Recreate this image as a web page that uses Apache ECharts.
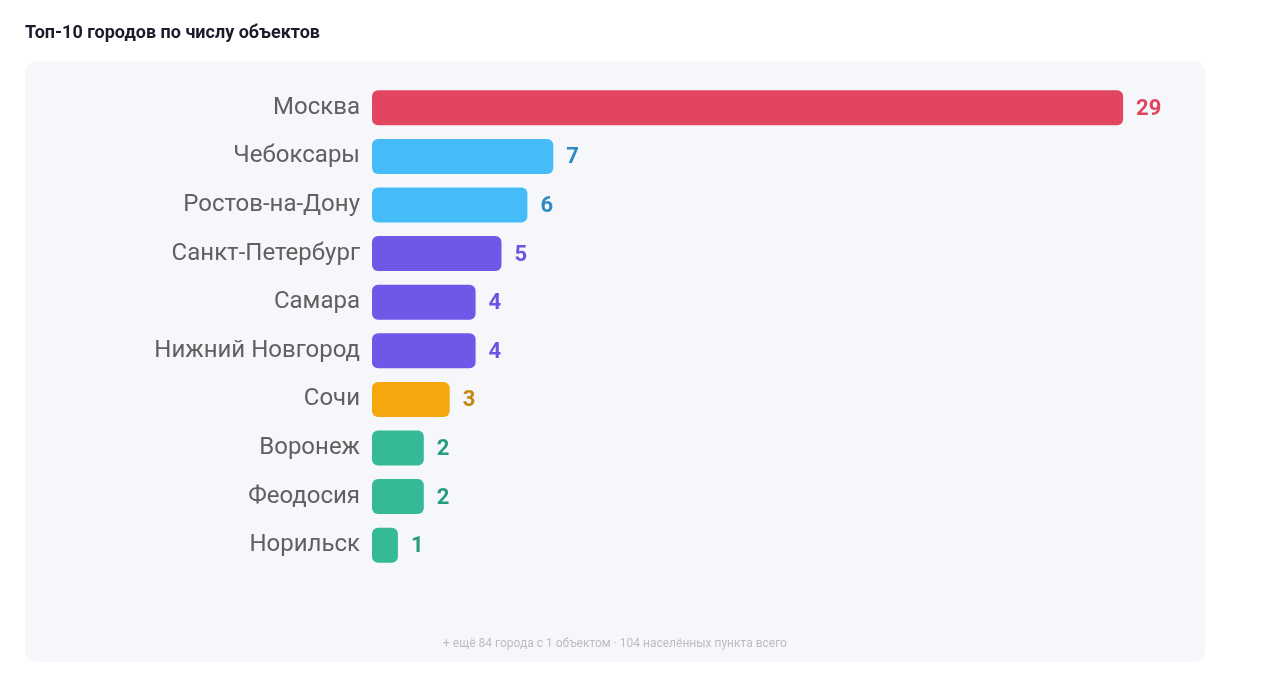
<!DOCTYPE html>
<html><head><meta charset="utf-8">
<script src="https://cdn.jsdelivr.net/npm/echarts@6/dist/echarts.min.js"></script>
<style>html,body{margin:0;padding:0;background:#fff;}#c{width:1266px;height:693px;}</style>
</head><body><div id="c"></div>
<script>
const cities = ['Москва','Чебоксары','Ростов-на-Дону','Санкт-Петербург','Самара','Нижний Новгород','Сочи','Воронеж','Феодосия','Норильск'];
const counts = [29,7,6,5,4,4,3,2,2,1];
const barColors = ['#e24560','#45bcf8','#45bcf8','#6f58e7','#6f58e7','#6f58e7','#f7a70e','#36b996','#36b996','#36b996'];
const labelColors = ['#e0445e','#2f89c2','#2f89c2','#6f52e4','#6f52e4','#6f52e4','#c4870f','#279c80','#279c80','#279c80'];
const titleText = 'Топ-10 городов по числу объектов';
const footerText = '+ ещё 84 города с 1 объектом · 104 населённых пункта всего';

const chart = echarts.init(document.getElementById('c'));
chart.setOption({
  animation:false,
  textStyle:{fontFamily:'Roboto'},
  graphic:[
    {type:'rect',z:-10,shape:{x:25,y:61,width:1180,height:601,r:12},style:{fill:'#f6f7fb'}},
    {type:'text',x:25,y:33,style:{text:titleText,font:'bold 18px Roboto',fill:'#1b1b2b',verticalAlign:'middle'}},
    {type:'text',x:615,y:644,style:{text:footerText,font:'12px Roboto',fill:'#bdbdbd',align:'center',verticalAlign:'middle'}}
  ],
  grid:{left:372,right:117,top:83.5,height:486,containLabel:false},
  xAxis:{type:'value',min:0,max:30,show:false},
  yAxis:{type:'category',inverse:true,data:cities,
    axisLine:{show:false},axisTick:{show:false},
    axisLabel:{fontSize:24,color:'#606060',margin:12,fontFamily:'Roboto'}},
  series:[{type:'bar',barWidth:35,
    data:counts.map((v,i)=>({value:v,itemStyle:{color:barColors[i]},label:{color:labelColors[i]}})),
    itemStyle:{borderRadius:6},
    label:{show:true,position:'right',distance:13,offset:[0,1.5],fontSize:22,fontWeight:'bold',fontFamily:'Roboto'}
  }]
});
</script></body></html>
